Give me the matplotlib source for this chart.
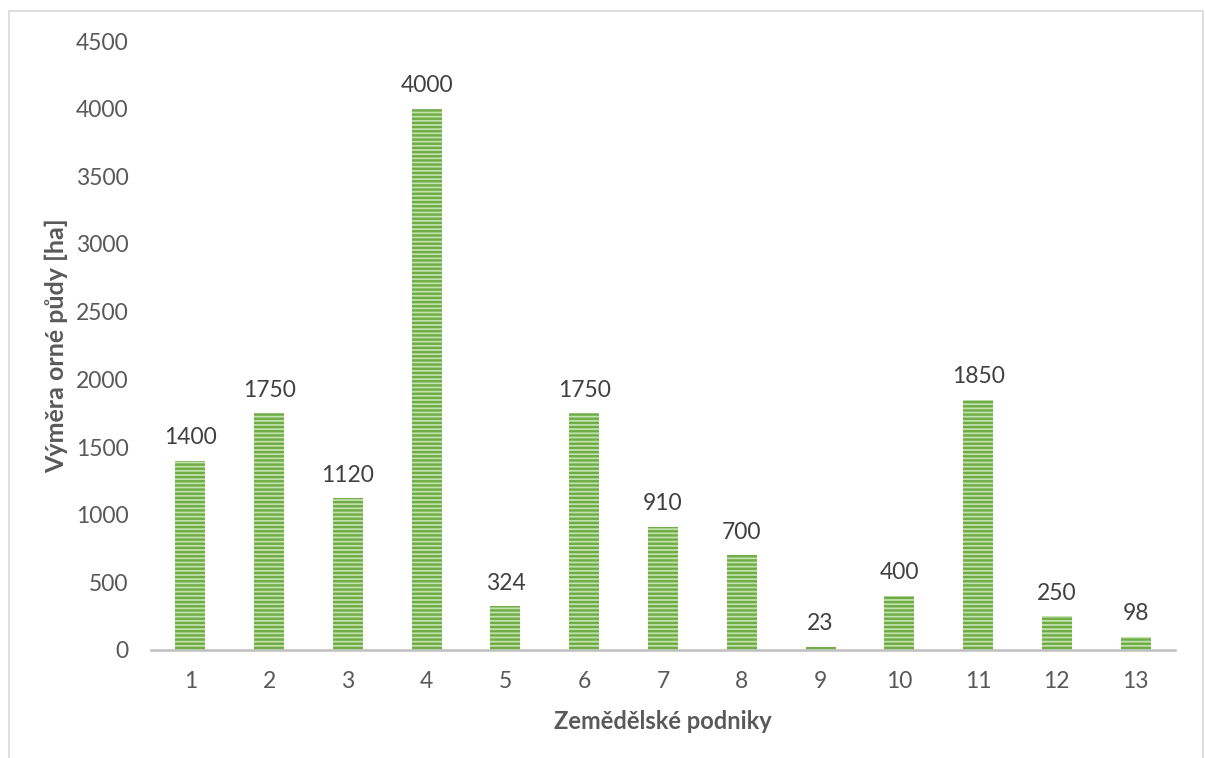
import matplotlib
matplotlib.use("Agg")
import matplotlib.pyplot as plt
from matplotlib.patches import Rectangle

plt.rcParams['font.family'] = ['Lato', 'DejaVu Sans']
plt.rcParams['hatch.linewidth'] = 1.7

podniky = ['1', '2', '3', '4', '5', '6', '7', '8', '9', '10', '11', '12', '13']
vymera = [1400, 1750, 1120, 4000, 324, 1750, 910, 700, 23, 400, 1850, 250, 98]
y_ticks = [0, 500, 1000, 1500, 2000, 2500, 3000, 3500, 4000, 4500]

text_gray = '#595959'
axis_gray = '#BFBFBF'
fs = 16.5

fig = plt.figure(figsize=(12.05, 7.58), dpi=100)
fig.patches.append(Rectangle((9 / 1205, -0.01), (1203 - 9) / 1205, (758 - 11) / 758 + 0.01,
                             transform=fig.transFigure, fill=False,
                             edgecolor='#D9D9D9', linewidth=1.2, zorder=-1))

ax = fig.add_axes([151 / 1205, 108 / 758, 1024 / 1205, 609 / 758])

x = list(range(len(podniky)))
bars = ax.bar(x, vymera, width=0.38, color='#C2E2AC', edgecolor='#6FAC46',
              hatch='----', linewidth=0, zorder=2)

for xi, v in zip(x, vymera):
    ax.annotate(f'{v}', (xi, v), xytext=(0, 9), textcoords='offset points',
                ha='center', va='bottom', fontsize=fs, color='#404040')

ax.set_xlim(-0.5, len(podniky) - 0.5)
ax.set_ylim(0, 4500)
ax.set_yticks(y_ticks)
ax.set_yticklabels([str(t) for t in y_ticks])
ax.set_xticks(x)
ax.set_xticklabels(podniky)

for side in ['top', 'right', 'left']:
    ax.spines[side].set_visible(False)
ax.spines['bottom'].set_color(axis_gray)
ax.spines['bottom'].set_linewidth(1.8)

ax.tick_params(axis='both', length=0, labelsize=fs, colors=text_gray)
ax.tick_params(axis='y', pad=16)
ax.tick_params(axis='x', pad=15)

ax.set_xlabel('Zemědělské podniky', fontsize=17, fontweight='bold', color=text_gray, labelpad=13)
ax.set_ylabel('Výměra orné půdy [ha]', fontsize=18, fontweight='bold', color=text_gray, labelpad=6)

fig.savefig('out.png', dpi=100)
